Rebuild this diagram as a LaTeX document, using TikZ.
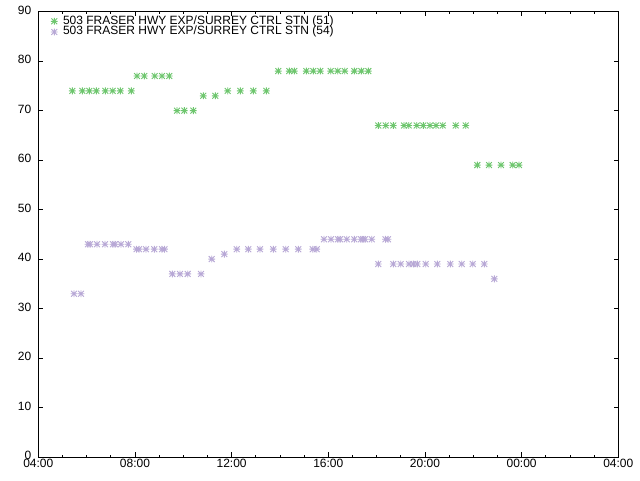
\documentclass[tikz,border=0pt]{standalone}
\usepackage{fontspec}
\setmainfont{Liberation Sans}
\definecolor{sgreen}{RGB}{110,198,110}
\definecolor{spurple}{RGB}{184,168,214}
\tikzset{
  ast/.pic={
    \draw (-3.4pt,0pt) -- (3.4pt,0pt) (0pt,-3.4pt) -- (0pt,3.4pt) (-2.9pt,-2.9pt) -- (2.9pt,2.9pt) (-2.9pt,2.9pt) -- (2.9pt,-2.9pt);
  },
  axisbox/.style={draw=black, line width=0.9pt},
  tickline/.style={draw=black, line width=0.9pt},
  ticklab/.style={font=\fontsize{12}{12}\selectfont, text=black, inner sep=0pt},
  legtext/.style={font=\fontsize{12}{12}\selectfont, text=black, inner sep=0pt, anchor=base west},
  gpt/.style={sgreen, line width=0.9pt},
  ppt/.style={spurple, line width=0.9pt}
}
\begin{document}
\begin{tikzpicture}[x=1pt,y=-1pt]
\useasboundingbox (0,0) rectangle (640,480);
\fill[white] (0,0) rectangle (640,480);
% axis box
\draw[axisbox] (38.3,11.7) rectangle (618.3,457);
% x ticks
\foreach \k/\lab in {0/04:00,1/08:00,2/12:00,3/16:00,4/20:00,5/00:00,6/04:00}{
  \pgfmathsetmacro{\xx}{38.3+96.667*\k}
  \draw[tickline] (\xx,457) -- (\xx,452.3);
  \draw[tickline] (\xx,11.7) -- (\xx,16.4);
  \node[ticklab, anchor=base] (xl\k) at (\xx,467.3) {\lab};
}
\foreach \m in {1,2,3,5,6,7,9,10,11,13,14,15,17,18,19,21,22,23}{
  \pgfmathsetmacro{\xx}{38.3+24.1667*\m}
  \draw[tickline] (\xx,457) -- (\xx,454.7);
  \draw[tickline] (\xx,11.7) -- (\xx,14.0);
}
% y ticks and data
\begin{scope}[shift={(0,457)}, y=4.948pt]
\foreach \v in {0,10,...,90}{
  \draw[tickline] (38.3,\v) -- (43,\v);
  \draw[tickline] (618.3,\v) -- (613.6,\v);
  \node[ticklab, anchor=east] (yl\v) at (31.5,\v) [yshift=1.5pt] {\v};
}
% series 51
\foreach \x/\v in {72.3/74,82.3/74,89.3/74,96.3/74,105.3/74,112.7/74,120.3/74,131.3/74,
  137/77,144.3/77,154.7/77,162/77,169.3/77,
  177/70,184.3/70,193.3/70,
  203.3/73,215.3/73,
  227.7/74,240.3/74,253.3/74,266.3/74,
  278.3/78,289.3/78,294.3/78,306.3/78,313.3/78,320.3/78,330.7/78,337.7/78,344.7/78,354.3/78,361.3/78,368.3/78,
  378.3/67,385.7/67,393.3/67,404/67,408.7/67,416.7/67,423.3/67,430/67,436/67,442.7/67,455.7/67,465.7/67,
  477.3/59,489/59,501/59,512.7/59,519/59}{
  \pic[gpt] at (\x,\v) {ast};
}
% series 54
\foreach \x/\v in {74/33,81/33,
  88/43,90/43,97/43,105/43,113/43,115/43,121/43,128.3/43,
  136.5/42,139/42,146/42,154.3/42,162/42,164.5/42,
  172.3/37,180/37,187.7/37,201/37,
  211.7/40,224.3/41,
  236.7/42,248.3/42,260/42,273.3/42,285.7/42,298.3/42,312.7/42,316.7/42,
  324/44,331/44,338/44,340/44,346.7/44,354.3/44,361/44,363/44,365/44,371.7/44,385.5/44,388/44,
  378.3/39,393.3/39,400.7/39,409/39,413.3/39,417.3/39,425.7/39,437.3/39,450.3/39,461.7/39,472.7/39,484.3/39,
  494.3/36}{
  \pic[ppt] at (\x,\v) {ast};
}
\end{scope}
% legend
\pic[gpt] at (54.3,21.3) {ast};
\pic[ppt] at (54.3,32.0) {ast};
\node[legtext] (leg1) at (62.8,24.3) {503 FRASER HWY EXP/SURREY CTRL STN (51)};
\node[legtext] (leg2) at (62.8,34.8) {503 FRASER HWY EXP/SURREY CTRL STN (54)};
\end{tikzpicture}
\end{document}
